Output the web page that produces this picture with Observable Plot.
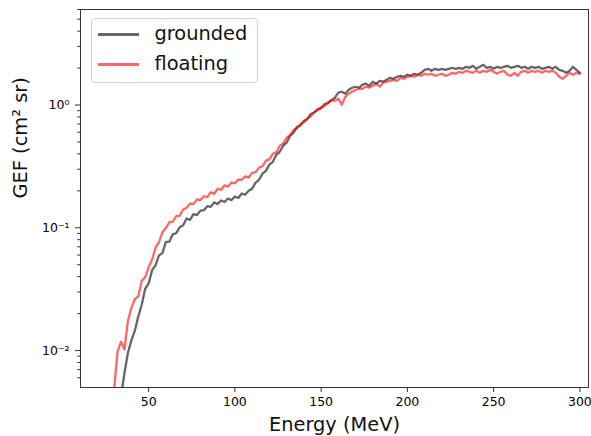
<!DOCTYPE html>
<html>
<head>
<meta charset="utf-8">
<script src="https://cdn.jsdelivr.net/npm/d3@7"></script>
<script src="https://cdn.jsdelivr.net/npm/@observablehq/plot@0.6"></script>
<style>
  html, body { margin: 0; padding: 0; background: #fff; }
  #wrap { position: relative; width: 591px; height: 436px; font-family: "DejaVu Sans", sans-serif; }
  #legend { position: absolute; left: 90.5px; top: 18px; width: 165px; height: 63px;
    border: 1px solid #d0d0d0; border-radius: 4px; background: rgba(255,255,255,0.8); }
  .sw { position: absolute; left: 6.5px; width: 41px; height: 2.5px; }
  .lt { position: absolute; left: 63px; font-size: 19.4px; line-height: 22px; color: #111; }
</style>
</head>
<body>
<div id="wrap"></div>
<script>
// Energy grid (MeV)
const energy = d3.range(30, 301, 2);

// GEF (cm² sr) — floating
const floating = [
  0.0049, 0.0098, 0.0118, 0.0102, 0.0175, 0.0222, 0.0262, 0.0276, 0.0371, 0.0395,
  0.0478, 0.0548, 0.0688, 0.0765, 0.0920, 0.0995, 0.1110, 0.1120, 0.1245, 0.1250,
  0.1410, 0.1450, 0.1575, 0.156, 0.170, 0.168, 0.181, 0.178, 0.195, 0.189,
  0.208, 0.203, 0.222, 0.216, 0.234, 0.230, 0.247, 0.246, 0.262, 0.256,
  0.280, 0.284, 0.309, 0.317, 0.352, 0.361, 0.401, 0.411, 0.466, 0.487,
  0.541, 0.566, 0.627, 0.645, 0.702, 0.722, 0.785, 0.808, 0.878, 0.905,
  0.962, 0.978, 1.056, 1.094, 1.083, 1.125, 1.006, 1.168, 1.236, 1.283,
  1.332, 1.357, 1.357, 1.409, 1.383, 1.436, 1.491, 1.409, 1.519, 1.548,
  1.575, 1.605, 1.575, 1.667, 1.636, 1.699, 1.731, 1.699, 1.764, 1.731,
  1.797, 1.764, 1.797, 1.731, 1.764, 1.797, 1.731, 1.764, 1.831, 1.797,
  1.866, 1.831, 1.900, 1.866, 1.831, 1.900, 1.831, 1.900, 1.866, 1.936,
  1.866, 1.797, 1.866, 1.900, 1.764, 1.731, 1.831, 1.731, 1.866, 1.900,
  1.831, 1.900, 1.866, 1.900, 1.831, 1.900, 1.866, 1.900, 1.831, 1.699,
  1.636, 1.731, 1.831, 1.764, 1.831, 1.797
];

// GEF (cm² sr) — grounded
const grounded = [
  null, null, 0.0042, 0.0066, 0.0096, 0.0121, 0.0145, 0.0190, 0.0236, 0.0318,
  0.0352, 0.0452, 0.0495, 0.0596, 0.0622, 0.0768, 0.0770, 0.0885, 0.0905, 0.101,
  0.105, 0.119, 0.116, 0.129, 0.127, 0.138, 0.139, 0.150, 0.148, 0.161,
  0.156, 0.167, 0.162, 0.173, 0.168, 0.180, 0.175, 0.190, 0.186, 0.200,
  0.208, 0.233, 0.246, 0.276, 0.291, 0.327, 0.345, 0.393, 0.416, 0.466,
  0.493, 0.562, 0.594, 0.664, 0.680, 0.743, 0.762, 0.846, 0.870, 0.928,
  0.940, 1.018, 1.033, 1.095, 1.147, 1.260, 1.283, 1.236, 1.332, 1.383,
  1.409, 1.383, 1.464, 1.491, 1.436, 1.548, 1.491, 1.575, 1.548, 1.605,
  1.667, 1.636, 1.699, 1.731, 1.699, 1.764, 1.731, 1.797, 1.764, 1.831,
  1.936, 1.973, 1.900, 1.973, 1.936, 1.973, 1.936, 1.973, 2.010, 1.973,
  2.010, 1.973, 2.048, 2.010, 2.087, 1.973, 2.048, 2.126, 2.010, 2.048,
  1.973, 2.048, 2.010, 2.048, 2.087, 2.010, 2.048, 2.087, 2.010, 2.048,
  1.973, 2.048, 2.010, 2.048, 1.973, 2.010, 2.048, 1.973, 2.048, 1.936,
  1.900, 1.831, 1.900, 2.048, 1.936, 1.831
];

const seriesNames = ["grounded", "floating"];
const xTicks = [50, 100, 150, 200, 250, 300];
const yMajorTicks = [0.01, 0.1, 1];
const yMajorLabels = ["10⁻²", "10⁻¹", "10⁰"];
const yMinorTicks = [0.006, 0.007, 0.008, 0.009, 0.02, 0.03, 0.04, 0.05, 0.06, 0.07, 0.08, 0.09,
  0.2, 0.3, 0.4, 0.5, 0.6, 0.7, 0.8, 0.9, 2, 3, 4, 5, 6];
const xLabel = "Energy (MeV)";
const yLabel = "GEF (cm² sr)";

const rowsG = energy.map((e, i) => ({e, v: grounded[i]})).filter(d => d.v != null);
const rowsF = energy.map((e, i) => ({e, v: floating[i]})).filter(d => d.v != null);

const chart = Plot.plot({
  width: 591,
  height: 436,
  marginLeft: 80,
  marginRight: 3,
  marginTop: 9,
  marginBottom: 49,
  style: {fontFamily: "DejaVu Sans, sans-serif", color: "#000", background: "#fff"},
  x: {domain: [10.5, 305]},
  y: {type: "log", domain: [0.005, 6]},
  marks: [
    Plot.line(rowsG, {x: "e", y: "v", stroke: "#000", strokeOpacity: 0.6, strokeWidth: 2.3, clip: true}),
    Plot.line(rowsF, {x: "e", y: "v", stroke: "#ff0000", strokeOpacity: 0.6, strokeWidth: 2.3, clip: true}),
    Plot.frame({stroke: "#333", strokeWidth: 1}),
    Plot.axisX({ticks: xTicks, tickSize: 5, tickPadding: 5, fontSize: 12.5, label: null, stroke: "#333"}),
    Plot.axisY({ticks: yMinorTicks, tickSize: 2.8, tickFormat: () => "", label: null, stroke: "#333"}),
    Plot.axisY({ticks: yMajorTicks, tickSize: 5, tickPadding: 6, fontSize: 12.5, label: null, stroke: "#333",
      tickFormat: d => yMajorLabels[yMajorTicks.indexOf(d)]}),
    Plot.text([xLabel], {frameAnchor: "bottom", dy: 43, lineAnchor: "bottom", fontSize: 19.4, fill: "#111"}),
    Plot.text([yLabel], {frameAnchor: "left", dx: -60, rotate: -90, fontSize: 19.4, fill: "#111"})
  ]
});

const wrap = document.getElementById("wrap");
wrap.appendChild(chart);

const legend = document.createElement("div");
legend.id = "legend";
const legendColors = ["rgb(102,102,102)", "rgb(255,102,102)"];
seriesNames.forEach((name, i) => {
  const sw = document.createElement("span");
  sw.className = "sw";
  sw.style.top = (14 + i * 30) + "px";
  sw.style.background = legendColors[i];
  const lt = document.createElement("span");
  lt.className = "lt";
  lt.style.top = (3.5 + i * 30) + "px";
  lt.textContent = name;
  legend.appendChild(sw);
  legend.appendChild(lt);
});
wrap.appendChild(legend);
</script>
</body>
</html>
